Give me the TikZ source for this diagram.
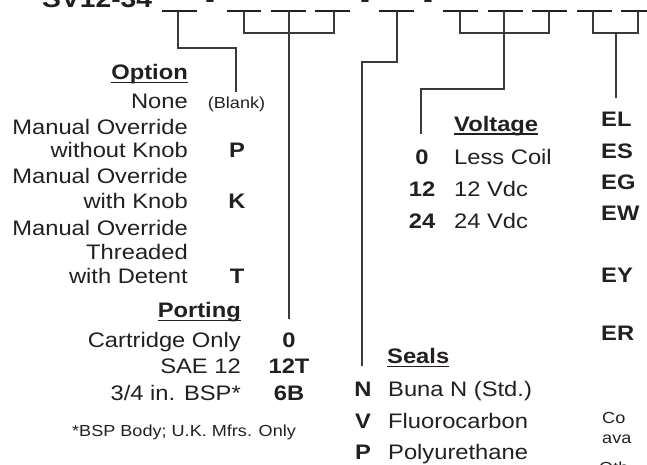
\documentclass[tikz,border=0pt]{standalone}
\usepackage{fontspec}
\setmainfont{Liberation Sans}[FakeStretch=1.13]
\definecolor{ink}{HTML}{231F20}
\definecolor{wire}{HTML}{3A3A3A}
\begin{document}
\begin{tikzpicture}[x=1pt,y=-1pt,
  txt/.style={font=\fontsize{21}{25}\selectfont, inner sep=0pt, text=ink},
  bld/.style={font=\fontsize{21}{25}\selectfont\bfseries, inner sep=0pt, text=ink},
  sml/.style={font=\fontsize{16}{19}\selectfont, inner sep=0pt, text=ink},
  ttl/.style={font=\fontsize{25}{30}\selectfont\bfseries, inner sep=0pt, text=ink},
  wireline/.style={draw=wire, line width=1.2pt},
  blankline/.style={draw=ink, line width=1.1pt},
  uline/.style={draw=ink, line width=1.4pt}]
\useasboundingbox (0,0) rectangle (647,464);
\clip (0,0) rectangle (647,464);
% title
\node[ttl, anchor=base west] (title) at (42,7) {SV12-34};
\node[ttl, anchor=base] (d1) at (210,7) {-};
\node[ttl, anchor=base] (d2) at (365,7) {-};
\node[ttl, anchor=base] (d3) at (428,7) {-};
% blanks
\foreach \n/\a/\b in {1/162/197,2/227/261,3/271/306,4/315/350,5/379/414,6/443/478,7/488/523,8/532/567,9/577/612,10/621/656}{
  \draw[blankline] (\a,11) -- (\b,11);
}
\coordinate (b1) at (178,11);
\coordinate (b2) at (244,11);
\coordinate (b3) at (289,11);
\coordinate (b4) at (334,11);
\coordinate (b5) at (397,11);
\coordinate (b6) at (460,11);
\coordinate (b7) at (504,11);
\coordinate (b8) at (549,11);
\coordinate (b9) at (593,11);
\coordinate (b10) at (638,11);
% option text
\node[bld, anchor=base east] (opt) at (188,79) {Option};
\draw[uline] ([yshift=-3.5pt]opt.base west) -- ([yshift=-3.5pt]opt.base east);
\node[txt, anchor=base east] (none) at (188,108) {None};
\node[sml, anchor=base] (blank) at (236.5,108) {(Blank)};
\node[txt, anchor=base east] (mo1) at (188,134) {Manual Override};
\node[txt, anchor=base east] (wok) at (188,157) {without Knob};
\node[bld, anchor=base] (cP) at (237,157) {P};
\node[txt, anchor=base east] (mo2) at (188,183) {Manual Override};
\node[txt, anchor=base east] (wk) at (188,208) {with Knob};
\node[bld, anchor=base] (cK) at (237,208) {K};
\node[txt, anchor=base east] (mo3) at (188,235) {Manual Override};
\node[txt, anchor=base east] (thr) at (188,259) {Threaded};
\node[txt, anchor=base east] (wd) at (188,283) {with Detent};
\node[bld, anchor=base] (cT) at (237,283) {T};
% porting
\node[bld, anchor=base east] (port) at (241,317) {Porting};
\draw[uline] ([yshift=-3.5pt]port.base west) -- ([yshift=-3.5pt]port.base east);
\node[txt, anchor=base east] (co) at (241,347) {Cartridge Only};
\node[bld, anchor=base] (c0) at (289,347) {0};
\node[txt, anchor=base east] (sae) at (241,373) {SAE 12};
\node[bld, anchor=base] (c12T) at (289,373) {12T};
\node[txt, anchor=base east] (bsp) at (241,400) {3/4 in. BSP*};
\node[bld, anchor=base] (c6B) at (289,400) {6B};
\node[sml, anchor=base west] (foot) at (72,436) {*BSP Body; U.K. Mfrs. Only};
% voltage
\node[bld, anchor=base west] (volt) at (454,131) {Voltage};
\draw[uline] ([yshift=-3pt]volt.base west) -- ([yshift=-3pt]volt.base east);
\node[bld, anchor=base] (v0) at (422,164) {0};
\node[txt, anchor=base west] (lc) at (454,164) {Less Coil};
\node[bld, anchor=base] (v12) at (422,196) {12};
\node[txt, anchor=base west] (l12) at (454,196) {12 Vdc};
\node[bld, anchor=base] (v24) at (422,228) {24};
\node[txt, anchor=base west] (l24) at (454,228) {24 Vdc};
% right codes
\node[bld, anchor=base west] (EL) at (601,126) {EL};
\node[bld, anchor=base west] (ES) at (601,158) {ES};
\node[bld, anchor=base west] (EG) at (601,189) {EG};
\node[bld, anchor=base west] (EW) at (601,220) {EW};
\node[bld, anchor=base west] (EY) at (601,282) {EY};
\node[bld, anchor=base west] (ER) at (601,340) {ER};
\node[sml, anchor=base west] (cot) at (602,423) {Co};
\node[sml, anchor=base west] (avt) at (602,443) {ava};
\node[sml, anchor=base west] (oth) at (599,473) {Oth};
% seals
\node[bld, anchor=base west] (seals) at (387,363) {Seals};
\draw[uline] ([yshift=-3.5pt]seals.base west) -- ([yshift=-3.5pt]seals.base east);
\node[bld, anchor=base] (sN) at (363,396) {N};
\node[txt, anchor=base west] (lN) at (388,396) {Buna N (Std.)};
\node[bld, anchor=base] (sV) at (363,428) {V};
\node[txt, anchor=base west] (lV) at (388,428) {Fluorocarbon};
\node[bld, anchor=base] (sP) at (363,459) {P};
\node[txt, anchor=base west] (lP) at (388,459) {Polyurethane};
% connectors
\draw[wireline] (b1) -- (178,48) -- (236,48) -- (236,92);
\draw[wireline] (b2) -- (244,33) -- (334,33) -- (b4);
\draw[wireline] (b3) -- (289,319);
\draw[wireline] (b5) -- (397,62) -- (362,62) -- (362,366);
\draw[wireline] (b6) -- (460,33) -- (549,33) -- (b8);
\draw[wireline] (b7) -- (504,89) -- (421,89) -- (421,134);
\draw[wireline] (b9) -- (593,33) -- (638,33) -- (b10);
\draw[wireline] (616,33) -- (616,98);
\end{tikzpicture}
\end{document}
